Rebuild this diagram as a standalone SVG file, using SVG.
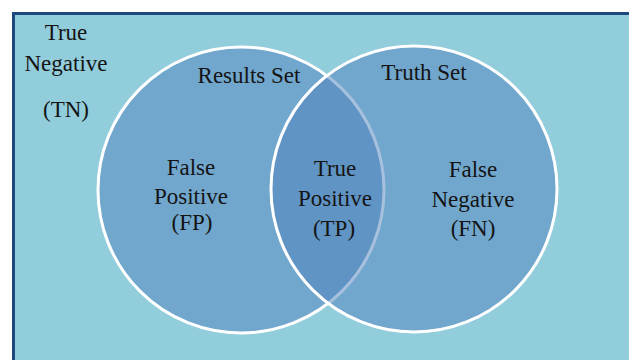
<svg xmlns="http://www.w3.org/2000/svg" width="629" height="360" viewBox="0 0 629 360">
<style>
.t{font-family:"Liberation Serif","Times New Roman",serif;font-size:23px;fill:#141414;text-anchor:middle}
.set{fill:#4F81BD;fill-opacity:0.5;stroke:#FFFFFF;stroke-width:3}
</style>
<rect x="0" y="0" width="629" height="360" fill="#FFFFFF"/>
<g id="universe">
<rect x="13.5" y="13.5" width="640" height="370" fill="#92CDDC" stroke="#1F487C" stroke-width="3"/>
<text class="t" x="66" y="40">True</text>
<text class="t" x="66" y="71">Negative</text>
<text class="t" x="66" y="117">(TN)</text>
</g>
<g id="results-set">
<circle class="set" cx="241" cy="190" r="143"/>
<text class="t" x="249" y="83">Results Set</text>
</g>
<g id="truth-set">
<circle class="set" cx="414" cy="189" r="143"/>
<text class="t" x="424" y="80">Truth Set</text>
</g>
<g id="false-positive">
<text class="t" x="191" y="175">False</text>
<text class="t" x="191" y="204">Positive</text>
<text class="t" x="192" y="230">(FP)</text>
</g>
<g id="true-positive">
<text class="t" x="335" y="176">True</text>
<text class="t" x="335" y="206">Positive</text>
<text class="t" x="334" y="236">(TP)</text>
</g>
<g id="false-negative">
<text class="t" x="473" y="177">False</text>
<text class="t" x="473" y="207">Negative</text>
<text class="t" x="473" y="236">(FN)</text>
</g>
<g id="connectors"></g>
</svg>
